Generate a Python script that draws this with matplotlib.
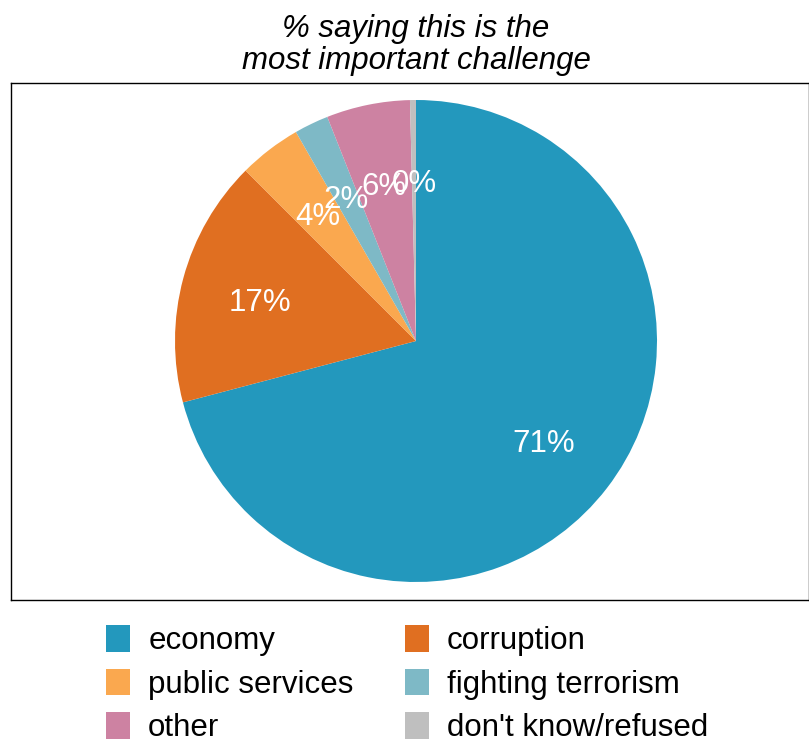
import matplotlib
matplotlib.use("Agg")
import matplotlib.pyplot as plt
from matplotlib.patches import Patch

categories = ["economy", "corruption", "public services",
              "fighting terrorism", "other", "don't know/refused"]
shares = [70.9, 16.6, 4.2, 2.3, 5.6, 0.4]
colors = ["#2398BD", "#E06F21", "#FAA84F", "#7EB9C6", "#CD82A2", "#BFBFBF"]

plt.rcParams["font.family"] = ["Liberation Sans", "DejaVu Sans"]
FS = 22.5

fig = plt.figure(figsize=(8.09, 7.40), dpi=100)
ax = fig.add_axes([11 / 809, 1 - 600 / 740, 798 / 809, 517 / 740])

wedges, texts = ax.pie(
    shares, colors=colors, startangle=90, counterclock=False,
    labels=[f"{v:.0f}%" for v in shares], labeldistance=0.67,
    wedgeprops=dict(linewidth=0),
    textprops=dict(color="white", fontsize=FS, ha="center", va="center"),
)

# map the axes so the pie sits a bit right of centre, radius ~241 px
r = 241.0
cx, cy = 416, 341
ax.set_aspect("auto")
ax.set_xlim((11 - cx) / r, (809 - cx) / r)
ax.set_ylim((cy - 600) / r, (cy - 83) / r)
ax.set_xticks([])
ax.set_yticks([])
ax.set_frame_on(True)
for s in ax.spines.values():
    s.set_visible(True)
    s.set_linewidth(1.0)
    s.set_color("black")

# nudge labels down a touch
for t in texts:
    x, y = t.get_position()
    t.set_position((x, y - 4 / r))

fig.text(416 / 809, 1 - 45 / 740, "% saying this is the\nmost important challenge",
         ha="center", va="center", fontsize=FS, style="italic",
         linespacing=1.1)

order = [0, 2, 4, 1, 3, 5]
handles = [Patch(facecolor=colors[i], edgecolor="none", label=categories[i])
           for i in order]
fig.legend(handles=handles, ncol=2, loc="upper left",
           bbox_to_anchor=(106 / 809, 1 - 625 / 740), frameon=False,
           fontsize=FS, handlelength=0.77, handleheight=0.93,
           handletextpad=0.58, columnspacing=1.63, labelspacing=0.4,
           borderpad=0, borderaxespad=0)

fig.savefig("out.png", dpi=100)
